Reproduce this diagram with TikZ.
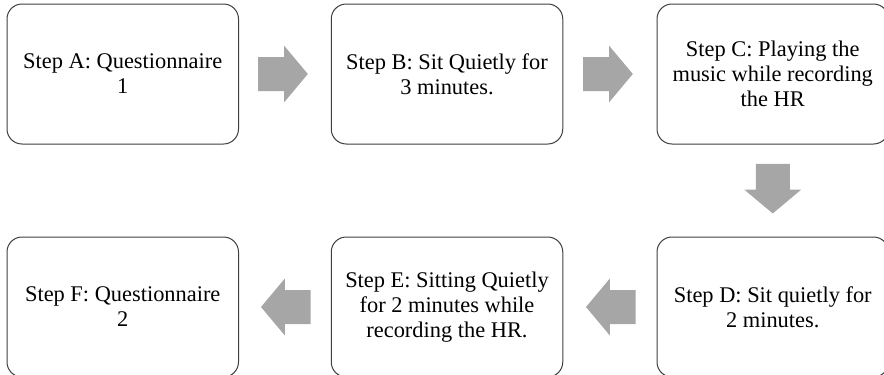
\documentclass[tikz,border=0pt]{standalone}
\usepackage{fontspec}
\setmainfont{Liberation Serif}
\usetikzlibrary{calc}
\definecolor{arrowgray}{HTML}{A6A6A6}
\definecolor{boxline}{HTML}{404040}
\tikzset{
  stepbox/.style={draw=boxline, line width=1pt, rounded corners=15pt, fill=white,
    minimum width=231.5pt, minimum height=140pt, align=center, inner sep=0pt,
    font=\fontsize{22.4}{25}\selectfont},
  bigarrow/.pic={\fill[arrowgray] (-24.8,-17) -- (1,-17) -- (1,-28.4) -- (24.8,0) -- (1,28.4) -- (1,17) -- (-24.8,17) -- cycle;}
}
\begin{document}
\begin{tikzpicture}[x=1pt,y=-1pt]
\useasboundingbox (0,0) rectangle (884,375);
\clip (0,0) rectangle (884,375);
\node[stepbox] (A) at (122.75,74) {Step A: Questionnaire\\1};
\node[stepbox] (B) at (447,74) {Step B: Sit Quietly for\\3 minutes.};
\node[stepbox] (C) at (772.75,74) {Step C: Playing the\\music while recording\\the HR};
\node[stepbox] (D) at (772.75,307) {Step D: Sit quietly for\\2 minutes.};
\node[stepbox] (E) at (447,307) {Step E: Sitting Quietly\\for 2 minutes while\\recording the HR.};
\node[stepbox] (F) at (122.75,307) {Step F: Questionnaire\\2};
\pic at ($(A.east)!0.48!(B.west)$) {bigarrow};
\pic at ($(B.east)!0.48!(C.west)$) {bigarrow};
\pic[rotate=-90] at ($(C.south)!0.48!(D.north)$) {bigarrow};
\pic[rotate=180] at ($(D.west)!0.49!(E.east)$) {bigarrow};
\pic[rotate=180] at ($(E.west)!0.49!(F.east)$) {bigarrow};
\end{tikzpicture}
\end{document}
